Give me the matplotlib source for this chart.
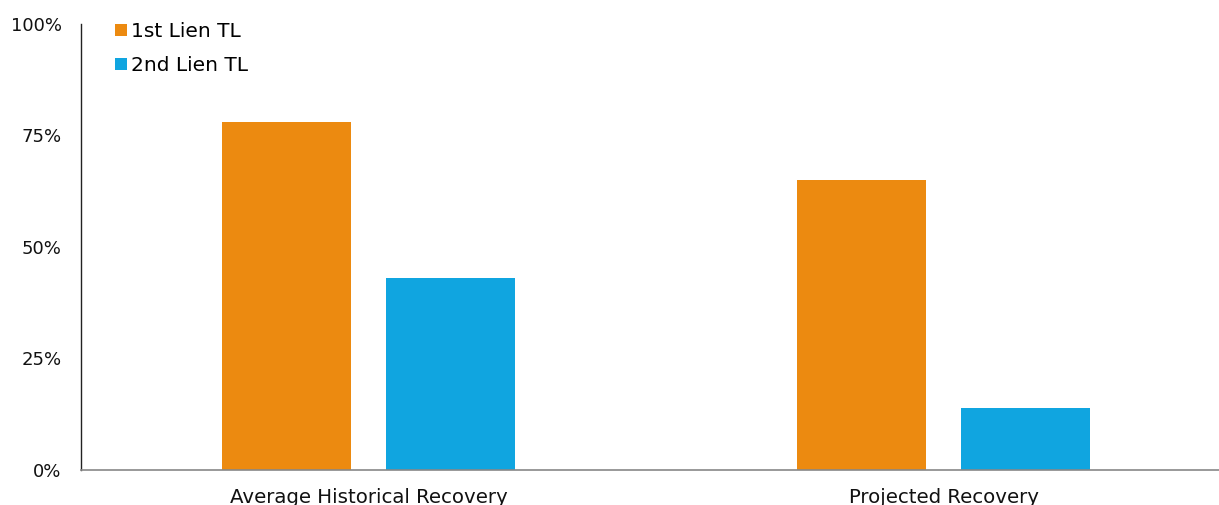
import matplotlib
matplotlib.use("Agg")
import matplotlib.pyplot as plt
import numpy as np
from matplotlib.ticker import FuncFormatter

categories = ["Average Historical Recovery", "Projected Recovery"]
first_lien = [78, 65]
second_lien = [43, 14]
series_names = ["1st Lien TL", "2nd Lien TL"]
colors = ["#EC8A10", "#10A5E0"]

fig = plt.figure(figsize=(12.19, 5.05), dpi=100)
ax = fig.add_axes([0.0665, 0.0693, 0.9335, 0.8832])

x = np.arange(len(categories))
w = 0.224
off = 0.1426
ax.bar(x - off, first_lien, w, color=colors[0], label=series_names[0])
ax.bar(x + off, second_lien, w, color=colors[1], label=series_names[1])

ax.set_xlim(-0.5, 1.479)
ax.set_ylim(0, 100)
ax.set_yticks([0, 25, 50, 75, 100])
ax.yaxis.set_major_formatter(FuncFormatter(lambda v, p: f"{v:.0f}%"))
ax.set_xticks(x)
ax.set_xticklabels(categories)
ax.tick_params(axis="both", length=0, colors="#111111")
ax.tick_params(axis="y", pad=14, labelsize=13)
ax.tick_params(axis="x", pad=13, labelsize=14.2)

for s in ["top", "right"]:
    ax.spines[s].set_visible(False)
ax.spines["left"].set_color("#222222")
ax.spines["bottom"].set_color("#888888")
ax.spines["left"].set_linewidth(1.0)
ax.spines["bottom"].set_linewidth(1.2)

# legend sits inside the axes, top-left
leg = ax.legend(loc="upper left", bbox_to_anchor=(0.0143, 1.045), frameon=False,
                fontsize=14.5, handlelength=0.55, handleheight=0.55, handletextpad=0.2,
                labelspacing=0.75)

fig.savefig("out.png", dpi=100)
